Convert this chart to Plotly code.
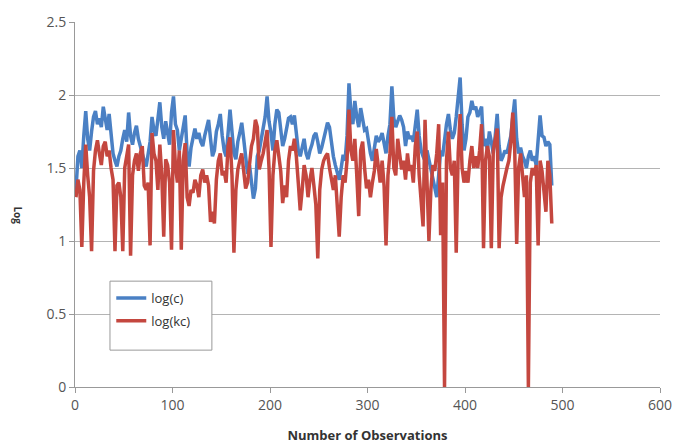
import plotly.graph_objects as go

obs = list(range(1, 490, 2))

log_c = [
    1.35, 1.58, 1.62, 1.50, 1.72, 1.89, 1.70, 1.62, 1.75, 1.85,
    1.89, 1.80, 1.84, 1.78, 1.92, 1.82, 1.76, 1.87, 1.70, 1.60,
    1.55, 1.51, 1.58, 1.62, 1.70, 1.76, 1.68, 1.88, 1.72, 1.66,
    1.74, 1.79, 1.70, 1.65, 1.58, 1.55, 1.51, 1.60, 1.68, 1.85,
    1.76, 1.72, 1.86, 1.95, 1.78, 1.70, 1.82, 1.74, 1.66, 1.88,
    1.99, 1.80, 1.76, 1.62, 1.70, 1.80, 1.86, 1.60, 1.51, 1.64,
    1.72, 1.77, 1.70, 1.74, 1.68, 1.65, 1.72, 1.78, 1.83, 1.70,
    1.58, 1.62, 1.75, 1.80, 1.87, 1.72, 1.62, 1.58, 1.76, 1.90,
    1.75, 1.60, 1.56, 1.68, 1.74, 1.81, 1.70, 1.55, 1.46, 1.52,
    1.40, 1.29, 1.36, 1.58, 1.62, 1.70, 1.78, 1.85, 1.99, 1.82,
    1.74, 1.62, 1.80, 1.90, 1.88, 1.76, 1.65, 1.70, 1.78, 1.84,
    1.85, 1.80, 1.86, 1.74, 1.62, 1.58, 1.64, 1.70, 1.60, 1.56,
    1.62, 1.66, 1.72, 1.74, 1.68, 1.60, 1.64, 1.70, 1.76, 1.81,
    1.78, 1.66, 1.58, 1.52, 1.46, 1.42, 1.50, 1.59, 1.55, 1.72,
    2.08, 1.88, 1.80, 1.96, 1.85, 1.78, 1.91, 1.84, 1.76, 1.77,
    1.68, 1.60, 1.55, 1.62, 1.72, 1.68, 1.70, 1.74, 1.65, 1.60,
    1.72, 1.80, 2.06, 1.84, 1.78, 1.82, 1.86, 1.83, 1.78, 1.65,
    1.75, 1.70, 1.72, 1.68, 1.80, 1.90, 1.72, 1.62, 1.58, 1.55,
    1.62, 1.55, 1.48, 1.42, 1.35, 1.30, 1.45, 1.62, 1.58, 1.70,
    1.80, 1.87, 1.76, 1.70, 1.74, 1.85, 1.98, 2.12, 1.80, 1.62,
    1.70, 1.85, 1.88, 1.96, 1.90, 1.92, 1.85, 1.88, 1.92, 1.65,
    1.70, 1.62, 1.75, 1.68, 1.60, 1.72, 1.87, 1.65, 1.55, 1.58,
    1.62, 1.60, 1.65, 1.72, 1.85, 1.97, 1.70, 1.60, 1.64, 1.58,
    1.55, 1.50, 1.58, 1.62, 1.55, 1.58, 1.52, 1.70, 1.86, 1.72,
    1.71, 1.65, 1.68, 1.66, 1.38,
]

log_kc = [
    1.30, 1.42, 1.35, 0.96, 1.40, 1.66, 1.45, 1.30, 0.93, 1.48,
    1.62, 1.69, 1.60, 1.52, 1.65, 1.68, 1.58, 1.62, 1.50, 1.42,
    0.93, 1.38, 1.40, 1.30, 0.93, 1.50, 1.58, 1.66, 0.90, 1.45,
    1.55, 1.60, 1.48, 1.60, 1.65, 1.38, 1.35, 1.40, 0.97, 1.74,
    1.60, 1.55, 1.35, 1.66, 1.45, 1.03, 1.56, 1.52, 1.40, 0.94,
    1.76, 1.52, 1.40, 1.62, 0.94, 1.55, 1.67, 1.30, 1.24, 1.35,
    1.33, 1.42, 1.38, 1.30, 1.45, 1.49, 1.40, 1.45, 1.38, 1.13,
    1.20, 1.12, 1.42, 1.55, 1.60, 1.45, 1.48, 1.40, 1.65, 1.71,
    1.45, 0.92, 1.35, 1.49, 1.55, 1.60, 1.48, 1.36, 1.40, 1.55,
    1.65, 1.70, 1.83, 1.78, 1.49, 1.55, 1.60, 1.68, 1.76, 1.50,
    0.96, 1.45, 1.62, 1.69, 1.58, 1.48, 1.26, 1.38, 1.30, 1.55,
    1.65, 1.62, 1.70, 1.58, 1.40, 1.21, 1.35, 1.52, 1.45, 1.30,
    1.42, 1.50, 1.38, 1.25, 0.88, 1.35, 1.49, 1.55, 1.58, 1.60,
    1.50, 1.42, 1.35, 1.45, 1.20, 1.03, 1.30, 1.45, 1.40, 1.55,
    1.90, 1.62, 1.55, 1.70, 1.45, 1.17, 1.62, 1.68, 1.50, 1.36,
    1.42, 1.30, 1.40, 1.48, 1.63, 1.52, 1.40, 1.55, 1.38, 0.97,
    1.45, 1.60, 1.85, 1.50, 1.45, 1.70, 1.58, 1.49, 1.55, 1.42,
    1.60, 1.48, 1.52, 1.40, 1.65, 1.75, 1.45, 1.30, 1.10, 1.83,
    1.40, 1.00, 1.35, 1.52, 1.48, 1.60, 1.80, 1.04, 1.40, 0.00,
    1.55, 1.75, 1.50, 1.45, 1.55, 0.92, 1.60, 1.87, 1.50, 1.40,
    1.48, 1.40, 1.55, 1.65, 1.50, 1.58, 1.50, 1.62, 1.80, 0.95,
    1.55, 1.65, 1.58, 0.95, 1.62, 1.70, 1.77, 0.95, 1.30, 1.38,
    1.45, 1.50, 1.55, 1.68, 1.88, 1.62, 0.98, 1.50, 1.60, 1.42,
    1.30, 1.45, 0.00, 1.40, 1.50, 1.45, 1.52, 0.97, 1.55, 1.48,
    1.30, 1.20, 1.55, 1.45, 1.12,
]

x_ticks = [0, 100, 200, 300, 400, 500, 600]
y_ticks = [0, 0.5, 1, 1.5, 2, 2.5]
y_tick_text = ["0", "0.5", "1", "1.5", "2", "2.5"]

fig = go.Figure()
fig.add_trace(go.Scatter(x=obs, y=log_c, mode="lines", name="log(c)",
                         legendgroup="a",
                         line=dict(color="#4A80C4", width=3.5)))
fig.add_trace(go.Scatter(x=obs, y=log_kc, mode="lines", name="log(kc)",
                         legendgroup="b",
                         line=dict(color="#C4473F", width=3.5)))

axis_font = dict(family="Open Sans, sans-serif", size=14, color="#555555")

fig.update_layout(
    width=672, height=438,
    margin=dict(l=67, r=20, t=14, b=59, autoexpand=False),
    paper_bgcolor="white", plot_bgcolor="white",
    showlegend=True,
    legend=dict(x=0.062, y=0.285, xanchor="left", yanchor="top",
                borderwidth=0, bgcolor="rgba(0,0,0,0)",
                font=dict(family="Open Sans, sans-serif", size=13, color="#333333"),
                tracegroupgap=3),
    shapes=[dict(type="rect", xref="paper", yref="paper",
                 x0=0.0598, x1=0.234, y0=0.101, y1=0.290,
                 line=dict(color="#999999", width=1),
                 fillcolor="white", layer="above")],
    xaxis=dict(range=[0, 600], tickvals=x_ticks, showgrid=False,
               showline=True, linecolor="#999999", linewidth=1,
               ticks="outside", ticklen=5, tickcolor="#999999",
               tickfont=axis_font, zeroline=False,
               title=dict(text="<b>Number of Observations</b>",
                          font=dict(family="Open Sans, sans-serif", size=13, color="#333333"),
                          standoff=18)),
    yaxis=dict(range=[0, 2.5], tickvals=y_ticks, ticktext=y_tick_text,
               showgrid=True, gridcolor="#B4B4B4", gridwidth=1,
               showline=True, linecolor="#999999", linewidth=1,
               ticks="outside", ticklen=5, tickcolor="#999999",
               tickfont=axis_font, zeroline=False),
    annotations=[dict(text="<b>Log</b>", textangle=90, x=-0.098, y=0.471,
                      xref="paper", yref="paper", xanchor="center", yanchor="middle",
                      showarrow=False,
                      font=dict(family="Open Sans, sans-serif", size=10, color="#333333"))],
)

fig.write_html("out.html")
